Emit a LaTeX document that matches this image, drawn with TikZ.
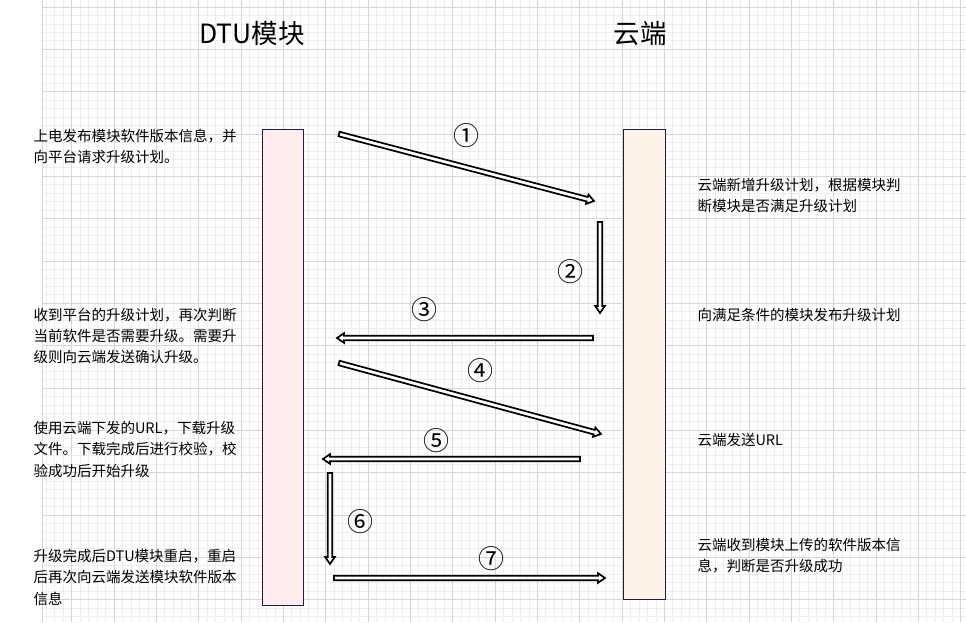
\documentclass[tikz,border=0pt]{standalone}
\usepackage{fontspec}
\setmainfont{Noto Sans CJK SC}
\usetikzlibrary{calc}
\definecolor{gridminor}{HTML}{EEEEEE}
\definecolor{gridmajor}{HTML}{D6D6D6}
\definecolor{boxline}{HTML}{1E1B3E}
\definecolor{dtufill}{HTML}{FFECEF}
\definecolor{cloudfill}{HTML}{FDF3E8}
\tikzset{
  hollowarrow/.style={draw=black, fill=white, line width=1.7pt, line join=miter,
    to path={
      ($(\tikztostart)!2.3pt!90:(\tikztotarget)$) --
      ($(\tikztotarget)!7pt!(\tikztostart)!2.3pt!90:(\tikztotarget)$) --
      ($(\tikztotarget)!7pt!(\tikztostart)!4.8pt!90:(\tikztotarget)$) --
      (\tikztotarget) --
      ($(\tikztotarget)!7pt!(\tikztostart)!4.8pt!-90:(\tikztotarget)$) --
      ($(\tikztotarget)!7pt!(\tikztostart)!2.3pt!-90:(\tikztotarget)$) --
      ($(\tikztostart)!2.3pt!-90:(\tikztotarget)$) -- cycle}},
  lane/.style={draw=boxline, line width=1pt},
  desc/.style={anchor=base west, inner sep=0pt, align=left,
    font=\fontsize{14.5}{21.3}\selectfont, text=black},
  title/.style={anchor=center, inner sep=0pt, font=\fontsize{26.5}{30}\selectfont, text=black},
  stepnum/.style={anchor=center, inner sep=0pt, font=\fontsize{26}{30}\selectfont, text=black}
}
\begin{document}
\begin{tikzpicture}[x=1pt,y=-1pt]
\useasboundingbox (0,0) rectangle (966,622);
\fill[white] (0,0) rectangle (966,622);
% grid
\foreach \i in {0,...,108} {
  \draw[gridminor, line width=0.8pt] ({46.3+8.4667*\i},0) -- ({46.3+8.4667*\i},622);
}
\foreach \j in {0,...,73} {
  \draw[gridminor, line width=0.8pt] (42.7,{7+8.4667*\j}) -- (966,{7+8.4667*\j});
}
\foreach \i in {0,...,21} {
  \draw[gridmajor, line width=0.9pt] ({71.7+42.333*\i},0) -- ({71.7+42.333*\i},622);
}
\foreach \j in {0,...,14} {
  \draw[gridmajor, line width=0.9pt] (42.7,{7+42.333*\j}) -- (966,{7+42.333*\j});
}
\draw[gridmajor, line width=0.9pt] (42.7,0) -- (42.7,622);

% titles
\node[title] (tdtu) at (252,33) {DTU模块};
\node[title] (tcloud) at (640,33) {云端};

% lanes
\draw[lane, fill=dtufill] (262.3,129.3) rectangle (303.3,605);
\draw[lane, fill=cloudfill] (623.3,129) rectangle (665.3,599);

% arrows
\coordinate (a1s) at (339,134);  \coordinate (a1e) at (594,201);
\coordinate (a2s) at (600,222);  \coordinate (a2e) at (600,313);
\coordinate (a3s) at (593,338);  \coordinate (a3e) at (337,338);
\coordinate (a4s) at (339,363);  \coordinate (a4e) at (601,434);
\coordinate (a5s) at (580,459);  \coordinate (a5e) at (323,459);
\coordinate (a6s) at (330,473);  \coordinate (a6e) at (330,564);
\coordinate (a7s) at (334,578);  \coordinate (a7e) at (605,578);
\draw[hollowarrow] (a1s) to (a1e);
\draw[hollowarrow] (a2s) to (a2e);
\draw[hollowarrow] (a3s) to (a3e);
\draw[hollowarrow] (a4s) to (a4e);
\draw[hollowarrow] (a5s) to (a5e);
\draw[hollowarrow] (a6s) to (a6e);
\draw[hollowarrow] (a7s) to (a7e);

% step numbers
\node[stepnum] (n1) at (466,136) {①};
\node[stepnum] (n2) at (570.5,272) {②};
\node[stepnum] (n3) at (424.5,310) {③};
\node[stepnum] (n4) at (480.5,371) {④};
\node[stepnum] (n5) at (436.5,441) {⑤};
\node[stepnum] (n6) at (360.5,521.5) {⑥};
\node[stepnum] (n7) at (491.5,558.5) {⑦};

% left descriptions (anchor = baseline of the last line)
\node[desc] (l1) at (33.3,162.8) {上电发布模块软件版本信息，并\\向平台请求升级计划。};
\node[desc] (l2) at (33.3,362.6) {收到平台的升级计划，再次判断\\当前软件是否需要升级。需要升\\级则向云端发送确认升级。};
\node[desc] (l3) at (33.3,476.1) {使用云端下发的URL，下载升级\\文件。下载完成后进行校验，校\\验成功后开始升级};
\node[desc] (l4) at (33.3,604.1) {升级完成后DTU模块重启，重启\\后再次向云端发送模块软件版本\\信息};

% right descriptions
\node[desc] (r1) at (697.3,211.8) {云端新增升级计划，根据模块判\\断模块是否满足升级计划};
\node[desc] (r2) at (697.3,320.5) {向满足条件的模块发布升级计划};
\node[desc] (r3) at (697.3,445.5) {云端发送URL};
\node[desc] (r4) at (697.3,571.3) {云端收到模块上传的软件版本信\\息，判断是否升级成功};
\end{tikzpicture}
\end{document}
